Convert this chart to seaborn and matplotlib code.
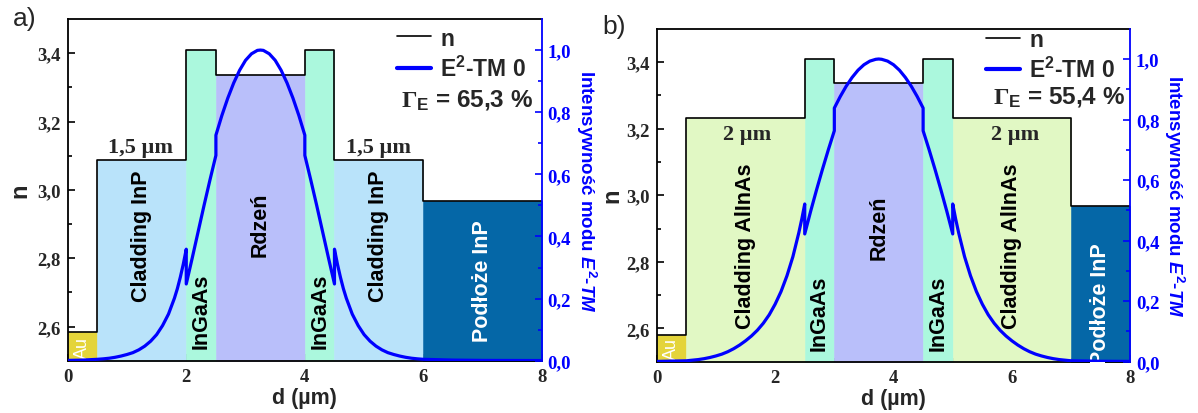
import matplotlib
matplotlib.use('Agg')
import matplotlib.pyplot as plt
from matplotlib.lines import Line2D
import seaborn as sns

# ---------------- data ----------------
edges_a = [0.0, 0.5, 2.0, 2.5, 4.0, 4.5, 6.0, 8.0]
n_a = [2.584, 3.088, 3.408, 3.336, 3.408, 3.088, 2.966]
layers_a = ['Au', 'Cladding InP', 'InGaAs', 'Rdzeń', 'InGaAs', 'Cladding InP', 'Podłoże InP']

edges_b = [0.0, 0.5, 2.5, 3.0, 4.5, 5.0, 7.0, 8.0]
n_b = [2.579, 3.233, 3.410, 3.338, 3.410, 3.233, 2.967]
layers_b = ['Au', 'Cladding AlInAs', 'InGaAs', 'Rdzeń', 'InGaAs', 'Cladding AlInAs', 'Podłoże InP']

d_a = [0.0, 0.25, 0.5, 0.6, 0.7, 0.8, 0.9, 1.0, 1.1, 1.2, 1.3, 1.4, 1.5, 1.6, 1.7, 1.8,
       1.85, 1.9, 1.95, 2.0,
       2.0, 2.1, 2.2, 2.3, 2.4, 2.5,
       2.5, 2.6, 2.7, 2.8, 2.9, 3.0, 3.1, 3.2, 3.25, 3.3, 3.4, 3.5, 3.6, 3.7, 3.8, 3.9, 4.0,
       4.0, 4.1, 4.2, 4.3, 4.4, 4.5,
       4.5, 4.55, 4.6, 4.65, 4.7, 4.8, 4.9, 5.0, 5.1, 5.2, 5.3, 5.4, 5.5, 5.6, 5.7, 5.8,
       5.9, 6.0, 6.5, 7.0, 8.0]
e2_a = [0.001, 0.002, 0.0045, 0.006, 0.008, 0.011, 0.015, 0.020, 0.026, 0.035, 0.047, 0.063,
        0.084, 0.113, 0.150, 0.201, 0.232, 0.269, 0.311, 0.359,
        0.247, 0.330, 0.415, 0.500, 0.582, 0.661,
        0.726, 0.789, 0.845, 0.894, 0.935, 0.967, 0.988, 0.999, 1.000, 0.999, 0.988, 0.967,
        0.935, 0.894, 0.845, 0.789, 0.726,
        0.661, 0.582, 0.500, 0.415, 0.330, 0.247,
        0.359, 0.311, 0.269, 0.232, 0.201, 0.150, 0.113, 0.084, 0.063, 0.047, 0.035, 0.026,
        0.020, 0.015, 0.011, 0.008, 0.006, 0.0045, 0.002, 0.001, 0.0005]

d_b = [0.0, 0.25, 0.5, 0.6, 0.7, 0.8, 0.9, 1.0, 1.1, 1.2, 1.3, 1.4, 1.5, 1.6, 1.7, 1.8, 1.9,
       2.0, 2.1, 2.2, 2.3, 2.4, 2.45, 2.5,
       2.5, 2.6, 2.7, 2.8, 2.9, 3.0,
       3.0, 3.1, 3.2, 3.3, 3.4, 3.5, 3.6, 3.7, 3.75, 3.8, 3.9, 4.0, 4.1, 4.2, 4.3, 4.4, 4.5,
       4.5, 4.6, 4.7, 4.8, 4.9, 5.0,
       5.0, 5.05, 5.1, 5.2, 5.3, 5.4, 5.5, 5.6, 5.7, 5.8, 5.9, 6.0, 6.1, 6.2, 6.3, 6.4, 6.5,
       6.6, 6.7, 6.8, 6.9, 7.0, 7.5, 8.0]
e2_b = [0.001, 0.002, 0.003, 0.005, 0.007, 0.010, 0.014, 0.019, 0.025, 0.033, 0.043, 0.055,
        0.069, 0.085, 0.104, 0.127, 0.155, 0.190, 0.232, 0.284, 0.347, 0.426, 0.471, 0.521,
        0.422, 0.497, 0.568, 0.636, 0.701, 0.763,
        0.838, 0.876, 0.910, 0.939, 0.963, 0.981, 0.993, 0.999, 1.000, 0.999, 0.993, 0.981,
        0.963, 0.939, 0.910, 0.876, 0.838,
        0.763, 0.701, 0.636, 0.568, 0.497, 0.422,
        0.521, 0.471, 0.426, 0.347, 0.284, 0.232, 0.190, 0.155, 0.127, 0.104, 0.085, 0.069,
        0.055, 0.043, 0.033, 0.025, 0.019, 0.014, 0.010, 0.007, 0.005, 0.003, 0.0015, 0.001]

gamma_a = '65,3'
gamma_b = '55,4'
thick_a = '1,5 µm'
thick_b = '2 µm'

x_ticks = [0, 2, 4, 6, 8]
x_labels = ['0', '2', '4', '6', '8']
n_ticks = [2.6, 2.8, 3.0, 3.2, 3.4]
n_labels = ['2,6', '2,8', '3,0', '3,2', '3,4']
i_ticks = [0.0, 0.2, 0.4, 0.6, 0.8, 1.0]
i_labels = ['0,0', '0,2', '0,4', '0,6', '0,8', '1,0']

# ---------------- style ----------------
sns.set_theme(style='ticks')
plt.rcParams['font.family'] = ['Liberation Sans', 'DejaVu Sans']
plt.rcParams['font.weight'] = 'bold'
plt.rcParams['mathtext.fontset'] = 'custom'
plt.rcParams['mathtext.rm'] = 'Liberation Serif:bold'
plt.rcParams['mathtext.it'] = 'Liberation Sans:italic:bold'
plt.rcParams['mathtext.bf'] = 'Liberation Sans:bold'

colors = {'Au': '#e4d43a', 'Cladding InP': '#b9e3fa', 'InGaAs': '#abf8dd',
          'Rdzeń': '#b9bffa', 'Podłoże InP': '#0567a7', 'Cladding AlInAs': '#e1f8c4'}
BLUE = '#0000ff'
SERIF = {'family': 'Liberation Serif', 'weight': 'bold', 'size': 13.5}

fig = plt.figure(figsize=(11.98, 4.14), dpi=100)

panels = [
    dict(rect=[0.0565, 0.1263, 0.3959, 0.8254], edges=edges_a, n=n_a, layers=layers_a,
         d=d_a, e2=e2_a, gamma=gamma_a, thick=thick_a, tag='a)', tagpos=(0.021, 0.955),
         label_y=[2.54, 2.866, 2.647, 2.90, 2.647, 2.866, 2.737],
         thick_pos=[(1.23, 3.095, 'bottom'), (5.25, 3.095, 'bottom')],
         leg=(0.966, 0.978), gam=(0.702, 0.763), ylpad=4),
    dict(rect=[0.5482, 0.1239, 0.3953, 0.8043], edges=edges_b, n=n_b, layers=layers_b,
         d=d_b, e2=e2_b, gamma=gamma_b, thick=thick_b, tag='b)', tagpos=(0.513, 0.934),
         label_y=[2.54, 2.85, 2.648, 2.906, 2.648, 2.85, 2.676],
         thick_pos=[(1.52, 3.185, 'center'), (6.05, 3.185, 'center')],
         leg=(0.968, 1.003), gam=(0.710, 0.795), ylpad=2),
]

for p in panels:
    ax = fig.add_axes(p['rect'])
    edges, nv, layers = p['edges'], p['n'], p['layers']

    # layer fills
    for i, lay in enumerate(layers):
        ax.fill_between([edges[i], edges[i + 1]], 2.5, nv[i], color=colors[lay],
                        lw=0.4, edgecolor=colors[lay], zorder=1)
    # step profile of n
    xs, ys = [], []
    for i in range(len(nv)):
        xs += [edges[i], edges[i + 1]]
        ys += [nv[i], nv[i]]
    sns.lineplot(x=xs, y=ys, ax=ax, color='black', lw=1.2, estimator=None, sort=False,
                 zorder=2)

    # layer labels
    for i, lay in enumerate(layers):
        xc = (edges[i] + edges[i + 1]) / 2
        if lay == 'Au':
            ax.text(xc, p['label_y'][i], lay, rotation=90, ha='center', va='center',
                    color='white', fontsize=13, fontweight='normal', zorder=3)
        else:
            col = 'white' if lay.startswith('Podło') else 'black'
            ax.text(xc, p['label_y'][i], lay, rotation=90, ha='center', va='center',
                    color=col, fontsize=15.5, fontweight='bold', zorder=3)
    for (xx, yy, va) in p['thick_pos']:
        ax.text(xx, yy, p['thick'], ha='center', va=va, fontsize=16,
                family='Liberation Serif', fontweight='bold', zorder=3)

    ax.set_xlim(0, 8)
    ax.set_ylim(2.5, 3.5)
    ax.set_xticks(x_ticks, labels=x_labels, fontdict=SERIF)
    ax.set_xticks([1, 3, 5, 7], minor=True)
    ax.set_yticks(n_ticks, labels=n_labels, fontdict=SERIF)
    ax.set_yticks([2.7, 2.9, 3.1, 3.3], minor=True)
    ax.tick_params(axis='both', which='both', direction='in', top=False, right=False,
                   width=1.2, color='black')
    ax.tick_params(axis='both', which='major', length=5, pad=5)
    ax.tick_params(axis='both', which='minor', length=3)
    ax.set_xlabel('d (µm)', fontsize=15.5, fontweight='bold', labelpad=2)
    ax.set_ylabel('n', fontsize=17, fontweight='bold', labelpad=p['ylpad'])
    for s in ['left', 'top', 'bottom']:
        ax.spines[s].set_linewidth(1.3)
        ax.spines[s].set_color('black')
    ax.spines['right'].set_visible(False)

    # intensity on twin axis
    ax2 = ax.twinx()
    sns.lineplot(x=p['d'], y=p['e2'], ax=ax2, color=BLUE, lw=2.3, estimator=None,
                 sort=False, zorder=4)
    ax2.set_ylim(0, 1.1)
    ax2.set_xlim(0, 8)
    ax2.set_yticks(i_ticks, labels=i_labels, fontdict=SERIF, color=BLUE)
    ax2.set_yticks([0.1, 0.3, 0.5, 0.7, 0.9], minor=True)
    ax2.tick_params(axis='y', which='both', direction='in', colors=BLUE, width=1.2)
    ax2.tick_params(axis='y', which='major', length=5, pad=4)
    ax2.tick_params(axis='y', which='minor', length=3)
    for s in ['left', 'top', 'bottom']:
        ax2.spines[s].set_visible(False)
    ax2.spines['right'].set_color(BLUE)
    ax2.spines['right'].set_linewidth(1.3)
    ax2.set_ylabel(r'Intensywność modu $E^{\mathbf{2}}$-$TM$', color=BLUE, rotation=270,
                   va='bottom', fontsize=13.5, fontweight='bold', labelpad=2)

    handles = [Line2D([], [], color='black', lw=1.2), Line2D([], [], color=BLUE, lw=3)]
    ax2.legend(handles, ['n', r'E$^{\mathbf{2}}$-TM 0'], loc='upper right',
               bbox_to_anchor=p['leg'], frameon=False,
               prop={'family': 'Liberation Sans', 'weight': 'bold', 'size': 16.5},
               handlelength=1.5, handletextpad=0.4, labelspacing=0.28, borderpad=0,
               borderaxespad=0)
    ax2.text(p['gam'][0], p['gam'][1], r'$\Gamma_{\mathbf{E}}$ = ' + p['gamma'] + ' %',
             transform=ax2.transAxes, ha='left', va='center', fontsize=17.5,
             fontweight='bold')

    fig.text(p['tagpos'][0], p['tagpos'][1], p['tag'], ha='center', va='center',
             fontsize=19, fontweight='normal')

fig.savefig('out.png', dpi=100)
